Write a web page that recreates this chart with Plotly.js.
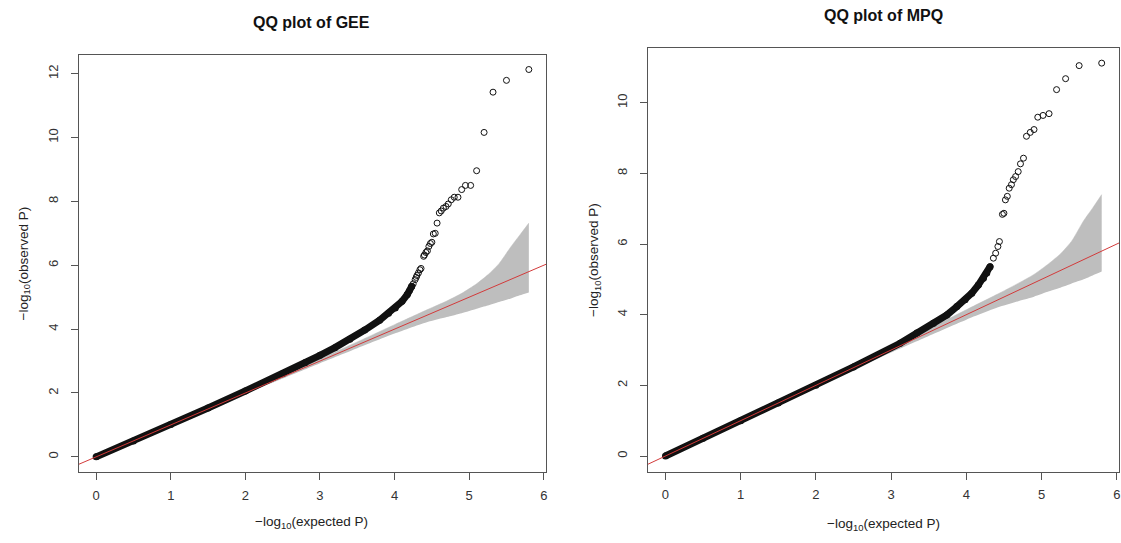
<!DOCTYPE html>
<html>
<head>
<meta charset="utf-8">
<script src="https://cdn.plot.ly/plotly-3.0.1.min.js"></script>
<style>html,body{margin:0;padding:0;background:#fff;}#chart{width:1121px;height:543px;}</style>
</head>
<body>
<div id="chart"></div>
<script>
// ---------- data ----------
const panelTitles = ["QQ plot of GEE", "QQ plot of MPQ"];
const xTitle = "\u2212log<sub>10</sub>(expected P)";
const yTitle = "\u2212log<sub>10</sub>(observed P)";

// y = x reference line
const refX = [-1, 7];
const refY = [-1, 7];

// GEE: dense body of the points (overlapping circles)
const geeDenseX = [0, 0.5, 1, 1.5, 2, 2.5, 2.8, 3.0, 3.2, 3.4, 3.6, 3.8, 3.92, 4.01, 4.1, 4.17, 4.23];
const geeDenseY = [0, 0.5, 1.01, 1.53, 2.06, 2.6, 2.95, 3.18, 3.42, 3.68, 3.97, 4.28, 4.5, 4.66, 4.87, 5.08, 5.34];
// GEE: separate tail points
const geeTailX = [4.17, 4.2, 4.23, 4.25, 4.276, 4.29, 4.30, 4.32, 4.34, 4.355, 4.39, 4.40, 4.42, 4.44, 4.46, 4.48, 4.50, 4.52, 4.545, 4.57, 4.60, 4.625, 4.655, 4.69, 4.72, 4.76, 4.80, 4.85, 4.90, 4.95, 5.02, 5.10, 5.20, 5.32, 5.50, 5.80];
const geeTailY = [5.08, 5.2, 5.34, 5.42, 5.55, 5.62, 5.68, 5.76, 5.86, 5.9, 6.28, 6.32, 6.40, 6.45, 6.59, 6.68, 6.72, 6.98, 7.0, 7.32, 7.64, 7.7, 7.79, 7.84, 7.92, 8.05, 8.13, 8.13, 8.37, 8.50, 8.50, 8.96, 10.16, 11.42, 11.79, 12.13];
// GEE: 95% band
const geeBandX = [0, 1, 2.0, 2.5, 3.0, 3.5, 4.0, 4.45, 4.7, 4.9, 5.1, 5.25, 5.4, 5.56, 5.68, 5.8];
const geeBandUpper = [0, 1.01, 2.03, 2.55, 3.07, 3.6, 4.14, 4.62, 4.88, 5.12, 5.42, 5.7, 6.05, 6.58, 6.95, 7.32];
const geeBandLower = [0, 0.99, 1.97, 2.45, 2.93, 3.4, 3.86, 4.23, 4.38, 4.5, 4.64, 4.74, 4.85, 4.96, 5.06, 5.15];

// MPQ
const mpqDenseX = [0, 0.5, 1, 1.5, 2, 2.5, 3.12, 3.342, 3.563, 3.74, 3.874, 3.984, 4.073, 4.16, 4.227, 4.272, 4.316];
const mpqDenseY = [0, 0.5, 1.0, 1.5, 2.0, 2.52, 3.19, 3.48, 3.76, 3.99, 4.23, 4.42, 4.61, 4.84, 5.03, 5.18, 5.36];
const mpqTailX = [4.16, 4.227, 4.272, 4.316, 4.36, 4.39, 4.42, 4.44, 4.48, 4.50, 4.52, 4.545, 4.57, 4.60, 4.625, 4.655, 4.69, 4.72, 4.76, 4.80, 4.85, 4.90, 4.95, 5.02, 5.10, 5.20, 5.32, 5.50, 5.80];
const mpqTailY = [4.84, 5.03, 5.18, 5.36, 5.60, 5.74, 5.93, 6.07, 6.84, 6.87, 7.25, 7.35, 7.58, 7.68, 7.82, 7.91, 8.05, 8.27, 8.43, 9.05, 9.16, 9.24, 9.59, 9.64, 9.69, 10.37, 10.68, 11.05, 11.12];
const mpqBandX = [0, 1, 2.0, 2.5, 3.0, 3.5, 4.0, 4.45, 4.7, 4.9, 5.1, 5.25, 5.4, 5.56, 5.68, 5.8];
const mpqBandUpper = [0, 1.01, 2.03, 2.55, 3.07, 3.6, 4.14, 4.62, 4.9, 5.14, 5.45, 5.72, 6.08, 6.66, 7.02, 7.4];
const mpqBandLower = [0, 0.99, 1.97, 2.45, 2.93, 3.4, 3.86, 4.23, 4.39, 4.51, 4.66, 4.76, 4.88, 5.0, 5.11, 5.22];

const xTicks = [0, 1, 2, 3, 4, 5, 6];
const geeYTicks = [0, 2, 4, 6, 8, 10, 12];
const mpqYTicks = [0, 2, 4, 6, 8, 10];

// ---------- styling ----------
const FONT = "Liberation Sans, Arial, sans-serif";
const bandColor = "#bebebe";
const pointColor = "#111111";
const refColor = "#d23a3a";

function panelTraces(bx, bu, bl, dx, dy, tx, ty, xa, ya) {
  return [
    {x: bx, y: bl, xaxis: xa, yaxis: ya, type: "scatter", mode: "lines",
     line: {width: 0, color: bandColor, shape: "spline", smoothing: 0.6}, hoverinfo: "skip", showlegend: false},
    {x: bx, y: bu, xaxis: xa, yaxis: ya, type: "scatter", mode: "lines",
     fill: "tonexty", fillcolor: bandColor, line: {width: 0.5, color: bandColor, shape: "spline", smoothing: 0.6},
     hoverinfo: "skip", showlegend: false},
    {x: dx, y: dy, xaxis: xa, yaxis: ya, type: "scatter", mode: "lines+markers",
     line: {width: 7, color: pointColor}, marker: {size: 7, color: pointColor},
     showlegend: false},
    {x: tx, y: ty, xaxis: xa, yaxis: ya, type: "scatter", mode: "markers",
     marker: {symbol: "circle-open", size: 6, color: pointColor, line: {width: 1, color: pointColor}},
     showlegend: false},
    {x: refX, y: refY, xaxis: xa, yaxis: ya, type: "scatter", mode: "lines",
     line: {width: 1, color: refColor}, showlegend: false}
  ];
}

const data = [].concat(
  panelTraces(geeBandX, geeBandUpper, geeBandLower, geeDenseX, geeDenseY, geeTailX, geeTailY, "x", "y"),
  panelTraces(mpqBandX, mpqBandUpper, mpqBandLower, mpqDenseX, mpqDenseY, mpqTailX, mpqTailY, "x2", "y2")
);

const axisCommon = {
  showgrid: false, zeroline: false, showline: true, mirror: true,
  linecolor: "#555", linewidth: 1, ticks: "outside", ticklen: 7, tickcolor: "#555",
  tickfont: {family: FONT, size: 13, color: "#333"}, fixedrange: true
};

const W = 1121, H = 543;
function xd(a, b) { return [a / W, b / W]; }
function yd(top, bottom) { return [(H - bottom) / H, (H - top) / H]; }

const layout = {
  width: W, height: H,
  margin: {l: 0, r: 0, t: 0, b: 0},
  paper_bgcolor: "#fff", plot_bgcolor: "#fff",
  showlegend: false,
  xaxis: Object.assign({}, axisCommon, {domain: xd(78.7, 546), range: [-0.234, 6.03],
    tickvals: xTicks, ticktext: xTicks.map(String), anchor: "y", ticklabelstandoff: 4}),
  yaxis: Object.assign({}, axisCommon, {domain: yd(55, 472.3), range: [-0.484, 12.584],
    tickvals: geeYTicks, ticktext: geeYTicks.map(String), tickangle: -90, anchor: "x", ticklabelstandoff: 8}),
  xaxis2: Object.assign({}, axisCommon, {domain: xd(648, 1119), range: [-0.232, 6.03],
    tickvals: xTicks, ticktext: xTicks.map(String), anchor: "y2", ticklabelstandoff: 4}),
  yaxis2: Object.assign({}, axisCommon, {domain: yd(48.3, 471.7), range: [-0.444, 11.54],
    tickvals: mpqYTicks, ticktext: mpqYTicks.map(String), tickangle: -90, anchor: "x2", ticklabelstandoff: 8}),
  annotations: [
    {text: "<b>" + panelTitles[0] + "</b>", xref: "paper", yref: "paper", x: 312 / W, y: (H - 22) / H,
     xanchor: "center", yanchor: "middle", showarrow: false, font: {family: FONT, size: 16, color: "#111"}},
    {text: "<b>" + panelTitles[1] + "</b>", xref: "paper", yref: "paper", x: 883.5 / W, y: (H - 15) / H,
     xanchor: "center", yanchor: "middle", showarrow: false, font: {family: FONT, size: 16, color: "#111"}},
    {text: xTitle, xref: "paper", yref: "paper", x: 312 / W, y: (H - 522) / H,
     xanchor: "center", yanchor: "middle", showarrow: false, font: {family: FONT, size: 13.5, color: "#222"}},
    {text: xTitle, xref: "paper", yref: "paper", x: 883.5 / W, y: (H - 524) / H,
     xanchor: "center", yanchor: "middle", showarrow: false, font: {family: FONT, size: 13.5, color: "#222"}},
    {text: yTitle, xref: "paper", yref: "paper", x: 24 / W, y: (H - 263.5) / H, textangle: -90,
     xanchor: "center", yanchor: "middle", showarrow: false, font: {family: FONT, size: 13.5, color: "#222"}},
    {text: yTitle, xref: "paper", yref: "paper", x: 594 / W, y: (H - 260) / H, textangle: -90,
     xanchor: "center", yanchor: "middle", showarrow: false, font: {family: FONT, size: 13.5, color: "#222"}}
  ]
};

Plotly.newPlot("chart", data, layout, {displayModeBar: false, staticPlot: true});
</script>
</body>
</html>
